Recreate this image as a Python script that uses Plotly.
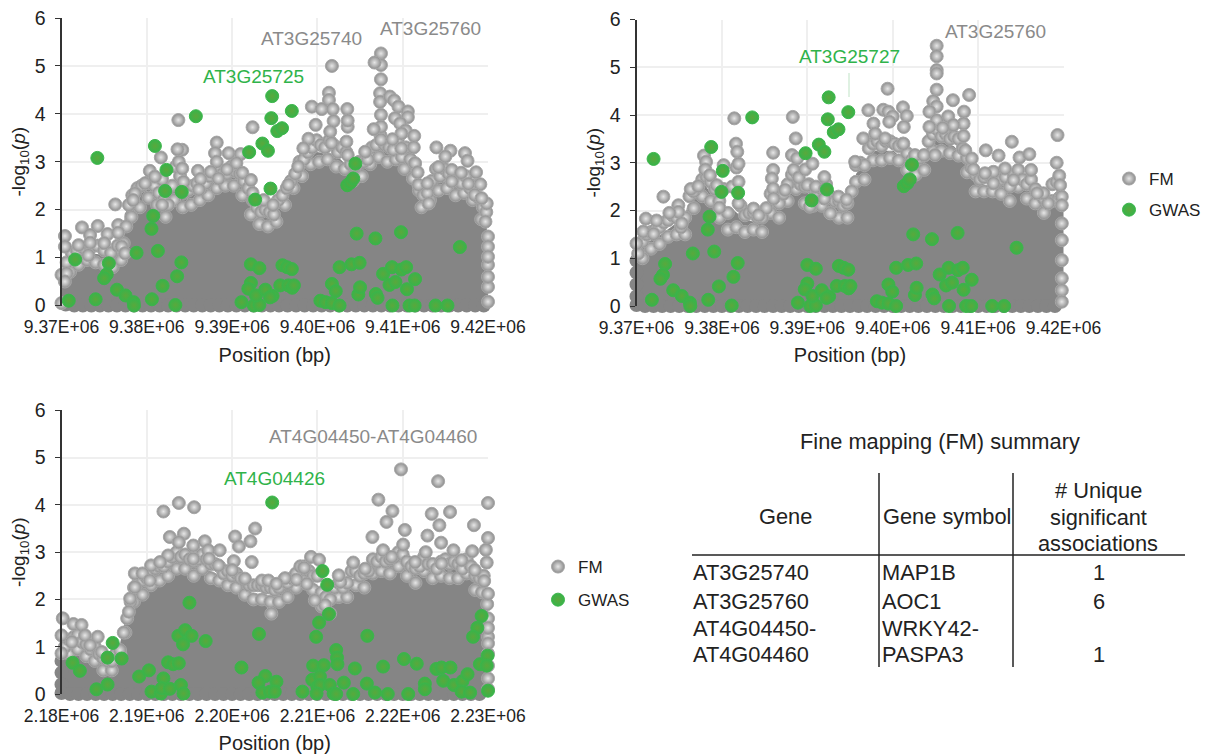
import plotly.graph_objects as go

# Positions are kb from each region's start; values are -log10(p).
START_A = 9370000
START_C = 2180000
TICKS_A = ["9.37E+06", "9.38E+06", "9.39E+06", "9.40E+06", "9.41E+06", "9.42E+06"]
TICKS_C = ["2.18E+06", "2.19E+06", "2.20E+06", "2.21E+06", "2.22E+06", "2.23E+06"]

# Upper outline of the solid, fully overlapped FM cloud
cloud_a = [(0,0),(0,.6),(1,.95),(3,1.05),(5,1.0),(7,1.05),(7.5,1.1),(7.7,1.9),(9,2.25),(10.5,2.4),(12,2.0),(13.3,2.4),(14.5,2.2),(16,2.3),
           (18,2.6),(20,2.65),(21.5,2.4),(23,1.85),(25,1.8),(26.5,2.25),(28,2.8),(30,3.15),(32,3.1),(34,2.75),(36,2.9),(37.5,3.3),(39.5,3.1),
           (41,2.75),(42,2.15),(43,2.15),(44,2.6),(46,2.45),(48,2.25),(49.5,1.85),(50,0)]
cloud_b = [(0,0),(0,.95),(1,1.25),(3,1.45),(4.5,1.65),(5.5,1.55),(6.2,2.05),(8,2.45),(9.5,2.05),(11,2.0),(12.3,1.8),(14.5,1.65),(16,2.05),
           (18.5,2.55),(20,2.3),(22,2.25),(24,1.95),(25.3,2.3),(26,2.75),(28,3.2),(30,3.2),(32,2.85),(33.5,2.95),(35,3.45),(37,3.3),(38.5,3.0),
           (40,2.5),(42,2.45),(44,2.5),(46,2.35),(48,2.0),(49,2.3),(49.8,2.0),(50,0)]
cloud_c = [(0,0),(0,.8),(1.5,1.0),(3,.85),(5,.55),(6.8,.65),(7.2,1.1),(8,1.75),(9,2.15),(11,2.45),(13.5,2.75),(16,2.65),(18,2.5),(20,2.3),
           (22,2.1),(25,2.0),(28,2.5),(29.5,2.3),(31,1.8),(33,2.05),(34.5,2.4),(37,2.6),(39.5,2.75),(41.5,2.45),(43,2.55),(45,2.6),(47.5,2.6),
           (49,2.25),(50,1.6),(50.1,0)]

# Scalloped foot of the cloud: solid FM points along zero and down the left edge
foot_a = [(.5,.02),(1.5,0),(2.5,0),(3.5,0),(4.5,0),(5.5,0),(6.5,0),(7.5,0),(8.5,0),(9.5,0),(10.5,0),(11.5,0),(12.5,0),(13.5,0),(14.5,0),(15.5,0),(16.5,0),
          (17.5,0),(18.5,0),(19.5,0),(20.5,0),(21.5,0),(22.5,0),(23.5,0),(24.5,0),(25.5,0),(26.5,0),(27.5,0),(28.5,0),(29.5,0),(30.5,0),(31.5,0),(32.5,0),
          (33.5,0),(34.5,0),(35.5,0),(36.5,0),(37.5,0),(38.5,0),(39.5,0),(40.5,0),(41.5,0),(42.5,0),(43.5,0),(44.5,0),(45.5,0),(46.5,0),(47.5,0),(48.5,0),(49.5,0)]
foot_b = [(0,.95),(0,.7),(0,.45),(0,.2),(0,.02),(1,0),(2,0),(3,0),(4,0),(5,0),(6,0),(7,0),(8,0),(9,0),(10,0),(11,0),(12,0),(13,0),(14,0),(15,0),(16,0),(17,0),
          (18,0),(19,0),(20,0),(21,0),(22,0),(23,0),(24,0),(25,0),(26,0),(27,0),(28,0),(29,0),(30,0),(31,0),(32,0),(33,0),(34,0),(35,0),(36,0),(37,0),(38,0),
          (39,0),(40,0),(41,0),(42,0),(43,0),(44,0),(45,0),(46,0),(47,0),(48,0),(49,0)]
foot_c = [(0,.7),(0,.45),(0,.2),(0,.02),(1,0),(2,0),(3,0),(4,0),(5,0),(6,0),(7,0),(8,0),(9,0),(10,0),(11,0),(12,0),(13,0),(14,0),(15,0),(16,0),(17,0),(18,0),
          (19,0),(20,0),(21,0),(22,0),(23,0),(24,0),(25,0),(26,0),(27,0),(28,0),(29,0),(30,0),(31,0),(32,0),(33,0),(34,0),(35,0),(36,0),(37,0),(38,0),(39,0),
          (40,0),(41,0),(42,0),(43,0),(44,0),(45,0),(46,0),(47,0),(48,0),(49,0)]

# FM points in the band just under the cloud's edge
band_a = [(1,.7),(2,.85),(3,.95),(4,.9),(5,.85),(6,.8),(7,.95),(8.2,1.85),(9.2,2.05),(10.2,2.25),(11.2,2.1),(12.2,1.85),(13.2,2.2),(14.2,2.05),
          (15.2,2.1),(16.2,2.2),(17.2,2.3),(18.2,2.45),(19.2,2.5),(20.2,2.5),(21.2,2.3),(22.2,1.9),(23.2,1.7),(24.2,1.65),(25.2,1.75),(26.2,2.1),
          (27.2,2.45),(28.2,2.7),(29.2,2.95),(30.2,3.0),(31.2,3.05),(32.2,2.9),(33.2,2.85),(34.2,2.6),(35.2,2.7),(36.2,2.95),(37.2,3.1),(38.2,3.0),
          (39.2,3.05),(40.2,2.85),(41.2,2.65),(42.2,2.05),(43.2,2.2),(44.2,2.4),(45.2,2.45),(46.2,2.3),(47.2,2.35),(48.2,2.2),(49.2,1.8)]
band_b = [(.7,1.0),(1.7,1.2),(2.7,1.3),(3.7,1.45),(4.7,1.5),(5.7,1.5),(6.7,2.05),(7.7,2.3),(8.7,2.2),(9.7,1.85),(10.7,1.6),(11.7,1.65),(12.7,1.55),
          (13.7,1.6),(14.7,1.55),(15.7,1.95),(16.7,1.85),(17.7,2.2),(18.7,2.45),(19.7,2.15),(20.7,2.1),(21.7,2.1),(22.7,1.95),(23.7,1.85),(24.7,1.85),
          (25.7,2.6),(26.7,2.65),(27.7,3.05),(28.7,3.05),(29.7,3.1),(30.7,3.05),(31.7,2.85),(32.7,2.75),(33.7,2.85),(34.7,3.25),(35.7,3.25),(36.7,3.2),
          (37.7,3.15),(38.7,2.8),(39.7,2.4),(40.7,2.4),(41.7,2.4),(42.7,2.35),(43.7,2.2),(44.7,2.5),(45.7,2.25),(46.7,2.15),(47.7,1.95),(48.7,2.2),(49.4,2.25)]
band_c = [(.9,.85),(1.9,.95),(2.9,.8),(3.9,.7),(4.9,.5),(5.9,.5),(7.5,1.3),(8.5,1.95),(9.5,2.1),(10.5,2.3),(11.5,2.4),(12.5,2.5),(13.5,2.65),(14.5,2.65),
          (15.5,2.5),(16.5,2.65),(17.5,2.45),(18.5,2.4),(19.5,2.3),(20.5,2.25),(21.5,2.1),(22.5,2.0),(23.5,2.0),(24.5,1.95),(25.5,1.95),(26.5,2.05),
          (27.5,2.25),(28.5,2.4),(29.5,2.2),(30.5,1.85),(31.5,1.7),(32.5,2.05),(33.5,2.05),(34.5,2.3),(35.5,2.25),(36.5,2.55),(37.5,2.6),(38.5,2.55),
          (39.5,2.7),(40.5,2.5),(41.5,2.35),(42.5,2.6),(43.5,2.45),(44.5,2.5),(45.5,2.45),(46.5,2.45),(47.5,2.55),(48.5,2.2),(49.3,2.15)]

# FM points along the visible edge of the cloud
edge_a = [(.6,.9),(1.2,1.1),(1.8,1.15),(2.6,1.2),(3.4,1.2),(4.2,1.25),(5.0,1.15),(5.8,1.1),(6.6,1.25),(7.3,1.3),(7.9,2.1),(8.3,2.3),(8.9,2.45),(9.4,2.5),
          (9.9,2.55),(10.4,2.6),(10.9,2.5),(11.4,2.35),(12.0,2.2),(12.5,2.1),(13.0,2.5),(13.4,2.9),(13.9,2.7),(14.4,2.35),(14.9,2.4),(15.4,2.5),(15.9,2.55),
          (16.4,2.45),(16.9,2.55),(17.4,2.7),(17.9,2.8),(18.4,2.85),(18.9,2.75),(19.4,2.75),(19.9,2.9),(20.4,2.8),(20.9,2.75),(21.4,2.6),(21.9,2.45),(22.4,2.2),
          (22.9,2.05),(23.4,1.95),(23.9,2.0),(24.4,1.95),(24.9,1.9),(25.4,2.2),(25.9,2.3),(26.4,2.45),(26.9,2.6),(27.4,2.75),(27.9,3.0),(28.4,3.05),(28.9,3.2),
          (29.4,3.3),(29.9,3.45),(30.4,3.35),(30.9,3.3),(31.4,3.45),(31.9,3.35),(32.4,3.2),(32.9,3.3),(33.4,3.2),(33.9,2.95),(34.4,2.9),(34.9,3.0),(35.4,3.0),
          (35.9,3.05),(36.4,3.3),(36.9,3.35),(37.4,3.55),(37.9,3.35),(38.4,3.3),(38.9,3.25),(39.4,3.45),(39.9,3.1),(40.4,3.3),(40.9,3.05),(41.4,2.95),(41.9,2.4),
          (42.4,2.3),(42.9,2.35),(43.4,2.6),(43.9,2.85),(44.4,2.7),(44.9,2.85),(45.4,2.75),(45.9,2.65),(46.4,2.6),(46.9,2.55),(47.4,2.7),(47.9,2.45),(48.4,2.5),
          (48.9,2.25),(49.4,2.05),(49.8,1.95)]
edge_b = [(.2,1.1),(.7,1.35),(1.2,1.5),(1.7,1.55),(2.2,1.6),(2.7,1.65),(3.2,1.75),(3.7,1.8),(4.2,1.9),(4.7,1.85),(5.2,1.65),(5.7,1.85),(6.2,2.3),(6.7,2.4),
          (7.2,2.5),(7.7,2.65),(8.2,2.7),(8.7,2.6),(9.2,2.45),(9.7,2.2),(10.2,2.45),(10.7,1.95),(11.2,2.5),(11.7,2.9),(12.2,2.1),(12.7,1.9),(13.2,1.95),(13.7,1.95),
          (14.2,1.85),(14.7,1.85),(15.2,2.05),(15.7,2.35),(16.2,2.3),(16.7,2.15),(17.2,2.35),(17.7,2.55),(18.2,2.75),(18.7,2.8),(19.2,2.55),(19.7,2.5),(20.2,2.55),
          (20.7,2.45),(21.2,2.4),(21.7,2.45),(22.2,2.55),(22.7,2.3),(23.2,2.2),(23.7,2.2),(24.2,2.1),(24.7,2.15),(25.2,2.4),(25.7,2.95),(26.2,3.0),(26.7,2.95),
          (27.2,3.3),(27.7,3.4),(28.2,3.45),(28.7,3.35),(29.2,3.45),(29.7,3.45),(30.2,3.4),(30.7,3.35),(31.2,3.4),(31.7,3.2),(32.2,3.05),(32.7,3.05),(33.2,3.1),
          (33.7,3.15),(34.2,3.45),(34.7,3.6),(35.2,3.7),(35.7,3.55),(36.2,3.6),(36.7,3.5),(37.2,3.55),(37.7,3.5),(38.2,3.3),(38.7,3.1),(39.2,2.9),(39.7,2.75),
          (40.2,2.65),(40.7,2.7),(41.2,2.75),(41.7,2.7),(42.2,2.6),(42.7,2.65),(43.2,2.7),(43.7,2.5),(44.2,2.75),(44.7,2.85),(45.2,2.65),(45.7,2.55),(46.2,2.65),
          (46.7,2.45),(47.2,2.35),(47.7,2.25),(48.2,2.15),(48.7,2.55),(49.2,2.6),(49.7,2.3)]
edge_c = [(.4,1.0),(.9,1.15),(1.4,1.2),(1.9,1.25),(2.4,1.1),(2.9,1.05),(3.4,.95),(3.9,1.0),(4.4,.85),(4.9,.75),(5.4,.7),(5.9,.7),(6.4,.85),(6.9,.85),(7.3,1.3),
          (7.7,1.6),(8.1,1.95),(8.5,2.25),(9.0,2.35),(9.5,2.4),(10,2.45),(10.5,2.6),(11,2.65),(11.5,2.7),(12,2.7),(12.5,2.8),(13,2.9),(13.5,3.0),(14,2.9),(14.5,2.95),
          (15,2.85),(15.5,2.8),(16,2.85),(16.5,2.95),(17,2.85),(17.5,2.75),(18,2.75),(18.5,2.7),(19,2.55),(19.5,2.6),(20,2.5),(20.5,2.55),(21,2.45),(21.5,2.4),(22,2.3),
          (22.5,2.3),(23,2.3),(23.5,2.3),(24,2.25),(24.5,2.25),(25,2.2),(25.5,2.25),(26,2.4),(26.5,2.35),(27,2.45),(27.5,2.55),(28,2.7),(28.5,2.7),(29,2.6),(29.5,2.5),
          (30,2.5),(30.5,2.15),(31,2.05),(31.5,2.0),(32,2.25),(32.5,2.35),(33,2.25),(33.5,2.35),(34,2.6),(34.5,2.6),(35,2.5),(35.5,2.55),(36,2.6),(36.5,2.85),(37,2.8),
          (37.5,2.9),(38,2.8),(38.5,2.85),(39,2.9),(39.5,3.0),(40,2.95),(40.5,2.8),(41,2.7),(41.5,2.65),(42,2.7),(42.5,2.9),(43,2.75),(43.5,2.75),(44,2.65),(44.5,2.8),
          (45,2.85),(45.5,2.75),(46,2.8),(46.5,2.75),(47,2.65),(47.5,2.85),(48,2.7),(48.5,2.5),(49,2.45),(49.5,2.5),(49.9,1.9)]

# Individually visible FM points
fm_a = [(13.7,3.87),(11.65,3.09),(10.35,2.81),(14.15,3.25),(13.6,3.26),(13.75,3.0),(14.15,2.86),(14.3,2.58),(11.8,2.63),(11.8,2.1),
        (18.2,3.4),(18.0,3.18),(18.2,3.0),(19.6,3.18),(21.0,3.16),(20.5,2.97),(21.2,2.77),(22.4,3.72),(22.2,2.62),(16.0,2.81),
        (16.3,2.64),(16.1,2.42),(19.4,2.84),(17.5,2.79),(18.4,2.65),(22.4,2.35),(23.7,2.2),(24.8,2.1),(8.6,2.34),(6.3,2.11),
        (2.4,1.63),(4.25,1.66),(0.4,1.45),(3.35,1.47),(5.4,1.49),(6.65,1.68),(7.6,1.65),(6.65,1.52),(3.35,1.31),(.4,1.23),(2.0,1.26),
        (5.0,1.3),(7.05,1.23),(7.45,1.09),(3.15,1.05),(0,.64),(.6,.67),(0,.05),(.4,.5),(8.4,2.2),(9.8,2.55),(10.95,2.69),
        (31.7,5.0),(31.35,4.44),(31.35,4.29),(29.35,4.15),(30.5,4.1),(31.8,4.1),(33.5,4.1),(31.9,3.85),(29.8,3.77),(33.55,3.73),
        (31.5,3.63),(33.55,3.86),(28.95,3.48),(28.35,3.28),(31.65,3.39),(33.4,3.42),(33.55,3.14),(35.6,3.21),(27.75,2.9),(26.6,2.52),
        (37.45,5.26),(37.45,5.02),(36.7,5.07),(37.45,4.72),(37.35,4.43),(37.35,4.25),(37.45,3.98),(37.45,3.73),(36.6,3.68),(37.45,3.46),
        (38.5,4.36),(39.0,4.28),(39.5,4.15),(40.6,4.05),(40.6,3.93),(39.1,3.91),(39.7,3.8),(40.35,3.65),(41.35,3.54),(39.85,3.59),
        (41.3,3.3),(39.85,3.28),(38.8,3.47),(41.45,2.97),(41.75,2.78),(41.85,2.52),(43.05,2.13),(43.95,3.3),(45.6,3.23),(45.0,3.11),
        (47.3,3.18),(47.6,3.02),(44.2,2.89),(45.75,2.83),(46.85,2.77),(48.6,2.78),(45.75,2.59),(49.1,2.53),(47.7,2.54),(49.85,2.13),
        (49.7,1.75),(50.0,1.44),(50.0,1.23),(50.0,.85),(50.0,.39),(50.0,.08),(50,.6),(50,1.02),(42.9,2.55),(48.45,2.31),(49.25,2.24)]

fm_b = [(11.45,3.93),(18.3,3.96),(18.65,3.51),(16.0,3.21),(11.65,3.4),(11.8,3.23),(11.95,2.98),(11.95,2.6),(11.95,2.15),(7.9,3.15),
        (8.15,3.02),(8.05,2.86),(8.6,2.74),(9.4,2.53),(10.2,2.95),(6.35,2.45),(9.7,2.06),(3.15,2.29),(4.9,2.11),(4.9,1.97),(1.1,1.83),
        (2.35,1.79),(3.85,1.95),(5.3,1.73),(.8,1.56),(2.0,1.51),(0,1.31),(16,2.85),(15.85,2.67),(16,2.46),(16.05,2.25),(13.7,2.04),
        (14.3,1.9),(18.2,3.16),(18.8,3.09),(18.4,2.85),(19,2.69),(19.75,2.86),(20.6,2.98),(20,2.53),(21,2.5),(22,2.7),(22.1,2.46),
        (22,2.25),(23.65,2.29),(24.6,2.23),(22.7,1.94),(20.3,2.08),(17.4,2.43),(7.25,2.51),
        (35.15,5.45),(35.15,5.23),(35.15,4.94),(35.15,4.87),(35.15,4.53),(29.4,4.55),(38.95,4.42),(37.05,4.31),(34.75,4.29),(35.15,4.18),
        (27.15,4.1),(28.9,4.11),(29.5,4.07),(31.2,4.16),(31.65,3.98),(30.0,3.97),(29.6,3.86),(38.35,4.07),(34.3,4.07),(36.5,3.97),
        (38.3,3.82),(37.1,3.79),(35.15,3.89),(27.75,3.82),(31.3,3.75),(34.3,3.75),(38.3,3.56),(35.85,3.73),(27.95,3.61),(26.55,3.51),
        (29.1,3.51),(31.25,3.4),(38.5,3.26),(39.25,3.09),(39.45,2.86),(40.9,3.26),(42.4,3.15),(43.95,3.44),(44.85,3.11),(46,3.18),
        (46.2,2.85),(49.3,3.58),(49.2,3.0),(49.5,2.73),(49.6,2.53),(49.8,2.29),(49.8,2.11),(49.8,1.73),(49.8,1.38),(49.8,.96),(49.8,.58),
        (49.8,.33),(49.8,.09),(43.15,2.88),(41.8,2.81),(40.8,2.78),(25.6,3.02),(32.6,3.16),(33.65,3.16),(34.95,3.16),(47.65,2.36),
        (46.9,2.36),(44.15,2.64),(41.8,2.57)]

fm_c = [(11.95,3.86),(13.75,4.04),(15.55,3.95),(12.7,3.32),(14.35,3.39),(13.75,3.21),(15.45,3.14),(16.8,3.23),(18.55,3.04),(17.2,3.04),
        (15.45,2.86),(17.3,2.86),(12.5,2.93),(10.5,2.72),(8.6,2.55),(9.5,2.55),(11.55,2.79),(18.4,2.72),(20.35,3.33),(22.7,3.5),(20.8,3.12),
        (22.15,3.23),(20.2,2.81),(22.3,2.79),(20,2.62),(21.5,2.44),(8.05,2.02),(7.9,1.74),(8.6,2.26),(10.35,2.4),(23.5,2.4),(24.25,2.4),
        (24.6,1.7),(.15,1.6),(1.4,1.48),(2.35,1.46),(2.75,1.24),(0,1.24),(1.2,1.1),(4.25,1.21),(3.35,1.03),(4.7,.89),(6.85,.93),(0,.86),
        (39.8,4.75),(44.15,4.5),(37.15,4.11),(38.8,3.87),(38.1,3.64),(50.0,4.04),(43.4,3.81),(45.55,3.85),(44.3,3.57),(48.35,3.57),
        (40.25,3.47),(36.45,3.32),(42.9,3.35),(50,3.3),(40.05,3.16),(44.5,3.2),(49.75,3.05),(37.7,3.04),(29.25,2.9),(30.2,2.84),(42.7,3.0),
        (45.95,3.04),(48.15,3.02),(49.85,2.78),(28.45,2.67),(34.2,2.78),(27.55,2.42),(26.2,2.45),(25.2,2.33),(32.7,2.37),(32.5,2.51),
        (48.45,2.62),(49.55,2.39),(50,2.12),(50.15,1.91),(50,1.21),(50,1.07),(50,.33),(35.6,2.65),(38.7,2.9),(41.45,2.79),(44.55,2.76),
        (46.9,2.83),(30.9,1.88),(29.7,1.98),(28.75,2.33),(50,1.6),(50,1.4),(50,.85),(50,.6),(50,.1)]

gwas_a = [(4.2,3.08),(1.6,.96),(.85,.1),(4.0,.13),(5.55,.88),(5.3,.65),(5.0,.57),(6.5,.33),(7.5,.21),(8.45,.07),(8.5,0),(8.8,1.10),
          (10.6,.13),(10.55,1.6),(10.75,1.87),(10.95,3.33),(11.3,1.14),(11.85,.41),(12.3,2.83),(12.15,2.39),(13.35,.01),(13.55,.61),
          (14.05,.9),(14.1,2.37),(15.75,3.95),(21.1,.07),(22.0,3.2),(22.2,.47),(21.9,.35),(22.2,.86),(22.7,2.21),(23.2,.78),(22.55,0),
          (23.2,.01),(22.8,.21),(23.9,.33),(23.55,3.38),(24.2,3.23),(24.5,2.44),(24.6,3.91),(24.7,4.37),(24.75,.2),(24.45,.17),(25.3,3.64),
          (25.85,3.7),(25.9,.84),(25.65,.42),(26.45,.8),(27.0,.76),(27.0,4.06),(26.6,.42),(27.05,.37),(27.25,.42),(30.35,.1),(30.95,.07),
          (31.7,.05),(32.6,0),(31.7,.45),(32.15,.3),(32.6,.8),(34.0,.86),(34.95,.89),(34.8,.23),(35.0,.38),(34.6,1.5),(34.45,2.96),(33.5,2.51),
          (33.9,2.57),(34.2,2.65),(36.8,1.4),(36.85,.24),(37.05,.16),(37.7,.66),(38.45,.43),(39.15,.49),(38.75,.8),(38.8,0),(39.8,1.53),
          (39.85,.75),(40.4,.8),(40.5,.34),(41.45,.55),(40.8,0),(41.4,0),(43.85,0),(45.25,0),(46.7,1.22)]

gwas_b = [(2.0,3.08),(1.8,.13),(3.35,.88),(3.1,.65),(2.8,.57),(4.3,.33),(5.3,.21),(6.25,.07),(6.3,0),(6.6,1.10),(8.4,.13),(8.35,1.6),
          (8.55,1.87),(8.75,3.33),(9.1,1.14),(9.65,.41),(10.1,2.83),(9.95,2.39),(11.15,.01),(11.35,.61),(11.85,.9),(11.9,2.37),(13.55,3.95),
          (18.9,.07),(19.8,3.2),(20.0,.47),(19.7,.35),(20.0,.86),(20.5,2.21),(21.0,.78),(20.35,0),(21.0,.01),(20.6,.21),(21.7,.33),(21.35,3.38),
          (22.0,3.23),(22.3,2.44),(22.4,3.91),(22.5,4.37),(22.55,.2),(22.25,.17),(23.1,3.64),(23.65,3.7),(23.7,.84),(23.45,.42),(24.25,.8),
          (24.8,.76),(24.8,4.06),(24.4,.42),(24.85,.37),(25.05,.42),(28.15,.1),(28.75,.07),(29.5,.05),(30.4,0),(29.5,.45),(29.95,.3),(30.4,.8),
          (31.8,.86),(32.75,.89),(32.6,.23),(32.8,.38),(32.4,1.5),(32.25,2.96),(31.3,2.51),(31.7,2.57),(32.0,2.65),(34.6,1.4),(34.65,.24),
          (34.85,.16),(35.5,.66),(36.25,.43),(36.95,.49),(36.55,.8),(36.6,0),(37.6,1.53),(37.65,.75),(38.2,.8),(38.3,.34),(39.25,.55),(38.6,0),
          (39.2,0),(41.65,0),(43.05,0),(44.5,1.22)]

gwas_c = [(1.3,.66),(2.15,.49),(4.1,.1),(5.4,.2),(6.0,1.08),(5.4,.77),(7.05,.75),(9.1,.37),(10.25,.5),(10.55,.05),(11.65,.01),(11.95,.33),
          (11.75,.12),(12.7,.11),(12.5,.67),(13.1,.63),(13.75,.65),(14.0,.19),(14.3,.01),(15.0,1.93),(13.7,1.23),(14.5,1.35),(15.25,1.23),
          (14.25,1.05),(16.9,1.12),(21.1,.56),(23.15,1.27),(23.9,.38),(23.1,.24),(23.55,.03),(24.45,.05),(24.7,4.05),(25.2,.26),(25,.05),
          (28.25,.05),(30.6,2.6),(31.15,2.31),(31.35,1.69),(30.2,1.51),(29.85,1.21),(35.85,1.23),(32.2,.93),(32.3,.77),(29.5,.6),(30.75,.61),
          (32.35,.63),(34.4,.54),(37.7,.58),(40.15,.74),(41.65,.64),(29.4,.3),(30.3,.37),(30,.15),(30.3,.19),(29.9,.01),(31.45,.19),(33.1,.24),
          (31.9,.01),(32.2,0),(34.2,0),(35.8,.22),(36.75,.03),(38.25,0),(40.65,0),(42.6,.22),(42.6,.1),(43.95,.53),(44.55,.56),(45.6,.56),
          (44.75,.28),(46,.19),(47,.27),(47.6,.42),(46.9,.05),(47.9,.03),(49.25,1.65),(48.75,1.4),(48.25,1.21),(49.05,.63),(49.95,.81),(49.85,.6),(50,.07)]

table_title = "Fine mapping (FM) summary"
table_head = ["Gene", "Gene symbol"]
table_head_count = ["# Unique", "significant", "associations"]
table_genes = ["AT3G25740", "AT3G25760", "AT4G04450-", "AT4G04460"]
table_symbols = ["MAP1B", "AOC1", "WRKY42-", "PASPA3"]
table_counts = ["1", "6", "", "1"]

W, H = 1206, 754
FONT = "Liberation Sans, Arial, sans-serif"
CLOUD = "#858585"
TXT = "#222222"
fig = go.Figure()

def px(v): return v / W
def py(v): return 1 - v / H

def bp(start, kb): return [start + k * 1000 for k in kb]

def panel(n, start, ticks, cloud, foot, fm, gwas, box, legend):
    sfx = "" if n == 1 else str(n)
    xa, ya = "x" + sfx, "y" + sfx
    l, r, t, b = box
    fig.add_trace(go.Scatter(x=bp(start, [c[0] for c in cloud]), y=[c[1] for c in cloud], xaxis=xa, yaxis=ya,
                             mode="lines", fill="tozeroy", fillcolor=CLOUD, line=dict(color=CLOUD, width=5),
                             showlegend=False, hoverinfo="skip", cliponaxis=False))
    fig.add_trace(go.Scatter(x=bp(start, [p[0] for p in foot]), y=[p[1] for p in foot], xaxis=xa, yaxis=ya, mode="markers",
                             marker=dict(size=14, color=CLOUD), showlegend=False, hoverinfo="skip", cliponaxis=False))
    fig.add_trace(go.Scatter(x=bp(start, [p[0] for p in fm]), y=[p[1] for p in fm], xaxis=xa, yaxis=ya, mode="markers",
                             name="FM", cliponaxis=False, showlegend=legend is not None, legend=legend or "legend",
                             legendgroup="fm" + sfx,
                             marker=dict(size=13, color="#8c8c8c", gradient=dict(type="radial", color="#e6e6e6"),
                                         line=dict(color="#a6a6a6", width=1))))
    fig.add_trace(go.Scatter(x=bp(start, [p[0] for p in gwas]), y=[p[1] for p in gwas], xaxis=xa, yaxis=ya, mode="markers",
                             name="GWAS", cliponaxis=False, showlegend=legend is not None, legend=legend or "legend",
                             legendgroup="gwas" + sfx,
                             marker=dict(size=13, color="#37b44a", gradient=dict(type="radial", color="#5aa83c"),
                                         line=dict(color="#3cb54a", width=1))))
    tv = [start + i * 10000 for i in range(6)]
    fig.update_layout(**{
        ("xaxis" + sfx): dict(domain=[px(l), px(r)], range=[start, start + 50000], tickvals=tv, ticktext=ticks,
                              showgrid=True, gridcolor="#efefef", gridwidth=2, zeroline=False, showline=False, ticks="",
                              ticklabelstandoff=9, tickfont=dict(size=17.5, color=TXT, family=FONT), anchor=ya, automargin=False,
                              title=dict(text="Position (bp)", font=dict(size=20, color=TXT, family=FONT), standoff=11)),
        ("yaxis" + sfx): dict(domain=[py(b), py(t)], range=[0, 6], tickvals=[0, 1, 2, 3, 4, 5, 6],
                              showgrid=True, gridcolor="#efefef", gridwidth=2, zeroline=False, showline=True,
                              linecolor="#333333", linewidth=2, ticks="outside", ticklen=5, tickcolor="#333333",
                              ticklabelstandoff=5,
                              tickfont=dict(size=19.5, color=TXT, family=FONT), anchor=xa, automargin=False,
                              title=dict(text="-log<sub>10</sub>(<i>p</i>)", font=dict(size=19, color=TXT, family=FONT), standoff=4)),
    })

# The band and edge layers share the panel's FM style, drawn just before the visible points
panel(1, START_A, TICKS_A, cloud_a, foot_a, band_a + edge_a + fm_a, gwas_a, (61.5, 488, 18, 305.5), None)
panel(2, START_A, TICKS_A, cloud_b, foot_b, band_b + edge_b + fm_b, gwas_b, (636.5, 1063.5, 19.5, 306), "legend")
panel(3, START_C, TICKS_C, cloud_c, foot_c, band_c + edge_c + fm_c, gwas_c, (61.5, 488, 410.3, 694), "legend2")

def note(text, x, y, color=TXT, size=18, anchor="center"):
    fig.add_annotation(text=text, xref="paper", yref="paper", x=px(x), y=py(y), showarrow=False,
                       xanchor=anchor, yanchor="middle", font=dict(size=size, color=color, family=FONT), align="center")

GREY_T, GREEN_T = "#8a8a8a", "#2fb34a"
note("AT3G25740", 311, 38, GREY_T, 19)
note("AT3G25760", 430, 29, GREY_T, 19)
note("AT3G25725", 253, 76, GREEN_T, 19)
note("AT3G25760", 995, 31, GREY_T, 19)
note("AT3G25727", 849, 57, GREEN_T, 19)
note("AT4G04450-AT4G04460", 373, 436, GREY_T, 19)
note("AT4G04426", 274, 478, GREEN_T, 19)

note(table_title, 940, 441, TXT, 21.8)
note(table_head[0], 785, 516, TXT, 21.8)
note(table_head[1], 881, 516, TXT, 21.8, "left")
for text, hy in zip(table_head_count, [491, 517, 543]):
    note(text, 1098, hy, TXT, 21.8)
row_y = [572, 601, 628, 654]
for i, ry in enumerate(row_y):
    note(table_genes[i], 691, ry, TXT, 21.8, "left")
    note(table_symbols[i], 880, ry, TXT, 21.8, "left")
    if table_counts[i]:
        note(table_counts[i], 1099, ry, TXT, 21.8)

line_style = dict(color="#222222", width=1.5)
shapes = [dict(type="line", xref="paper", yref="paper", x0=px(692), x1=px(1185), y0=py(555), y1=py(555), line=line_style),
          dict(type="line", xref="paper", yref="paper", x0=px(879), x1=px(879), y0=py(473), y1=py(667), line=line_style),
          dict(type="line", xref="paper", yref="paper", x0=px(1013), x1=px(1013), y0=py(473), y1=py(667), line=line_style),
          dict(type="line", xref="paper", yref="paper", x0=px(849), x1=px(849), y0=py(73), y1=py(97),
               line=dict(color="#bfe3c5", width=1))]

legend_style = dict(bgcolor="rgba(0,0,0,0)", borderwidth=0, font=dict(size=17, color=TXT, family=FONT),
                    traceorder="grouped", itemsizing="trace", xanchor="left", yanchor="top")
fig.update_layout(width=W, height=H, autosize=False, margin=dict(l=0, r=0, t=0, b=0, autoexpand=False), paper_bgcolor="white", plot_bgcolor="white",
                  shapes=shapes, hovermode=False, showlegend=True,
                  legend=dict(x=px(1109), y=py(161), tracegroupgap=6, **legend_style),
                  legend2=dict(x=px(538), y=py(549), tracegroupgap=8, **legend_style))
# Drop the page's default 8 px margin so the figure fills the window exactly
fig.write_html("out.html", config={"displayModeBar": False}, post_script="document.body.style.margin='0';")
